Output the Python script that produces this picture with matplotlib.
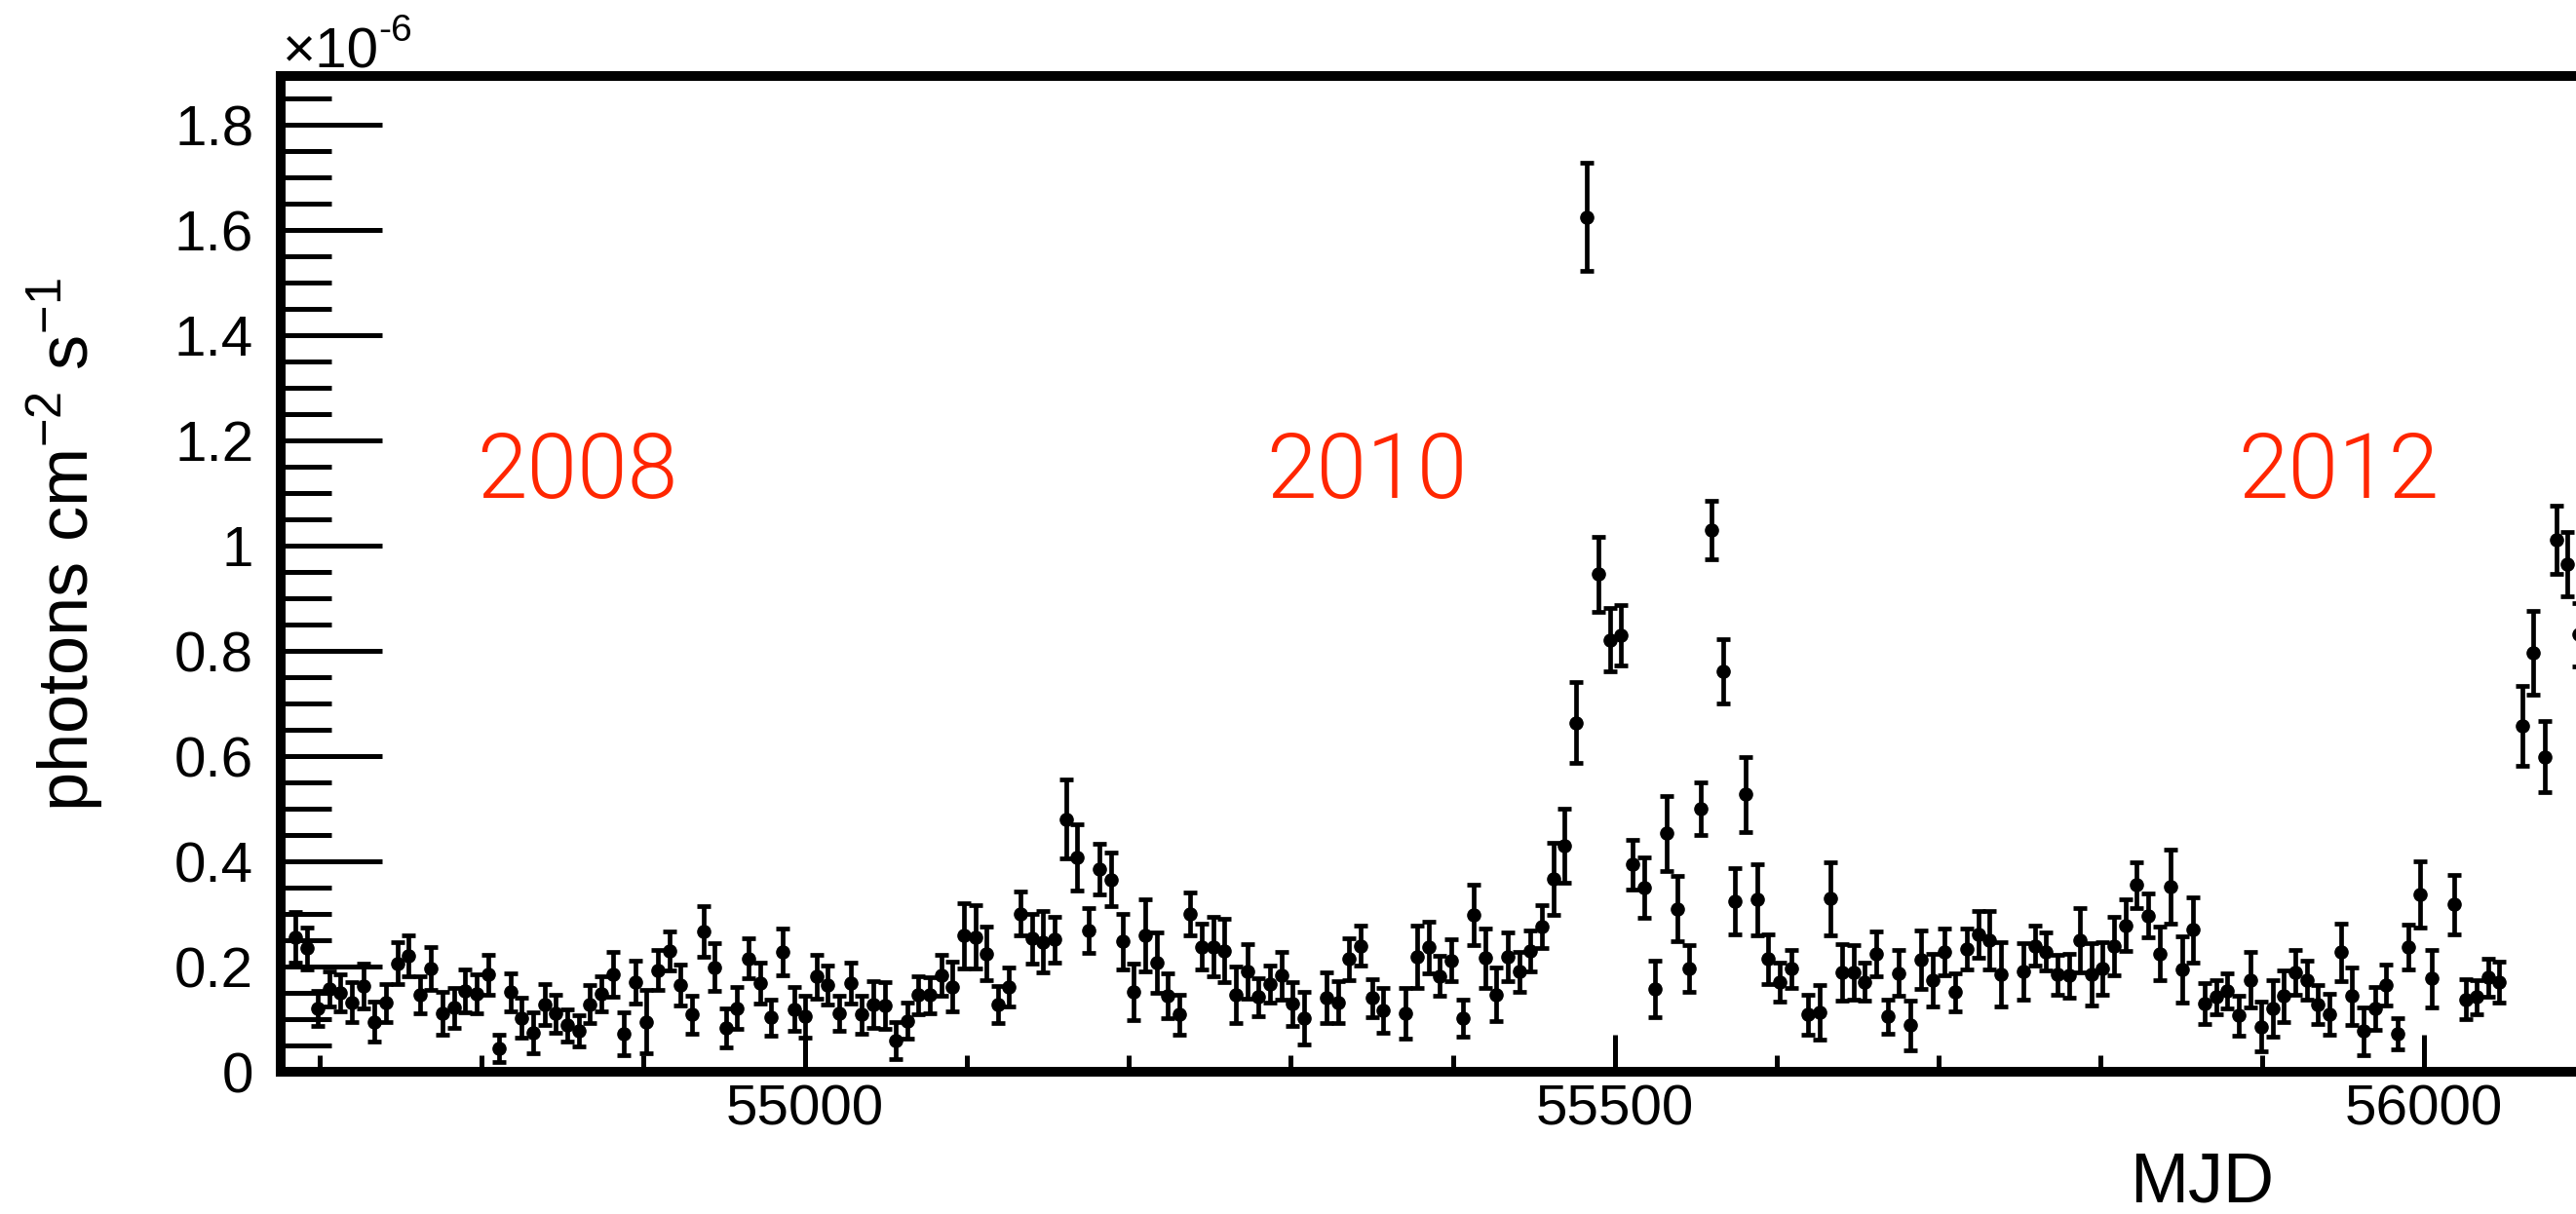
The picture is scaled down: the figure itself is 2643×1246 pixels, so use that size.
import matplotlib
matplotlib.use("Agg")
import matplotlib.pyplot as plt
from matplotlib import font_manager
from matplotlib.ticker import MultipleLocator, FuncFormatter

plt.rcParams['font.family'] = ['Liberation Sans', 'DejaVu Sans']
plt.rcParams['mathtext.fontset'] = 'custom'
plt.rcParams['mathtext.rm'] = 'Liberation Sans'
plt.rcParams['mathtext.it'] = 'Liberation Sans:italic'
plt.rcParams['mathtext.bf'] = 'Liberation Sans:bold'

# -----------------------------
# WEEKLY LIGHT CURVE (flux in units of 1e-6 photons cm^-2 s^-1)
# -----------------------------
mjd = [
    54685, 54692, 54699, 54706, 54713, 54720, 54727, 54734, 54741, 54748,
    54755, 54762, 54769, 54776, 54783, 54790, 54797, 54804, 54811, 54818,
    54825, 54832, 54839, 54846, 54853, 54860, 54867, 54874, 54881, 54888,
    54895, 54902, 54909, 54916, 54923, 54930, 54937, 54944, 54951, 54958,
    54965, 54972, 54979, 54986, 54993, 55000, 55007, 55014, 55021, 55028,
    55035, 55042, 55049, 55056, 55063, 55070, 55077, 55084, 55091, 55098,
    55105, 55112, 55119, 55126, 55133, 55140, 55147, 55154, 55161, 55168,
    55175, 55182, 55189, 55196, 55203, 55210, 55217, 55224, 55231, 55238,
    55245, 55252, 55259, 55266, 55273, 55280, 55287, 55294, 55301, 55308,
    55322, 55329, 55336, 55343, 55350, 55357,
    55371, 55378, 55385, 55392, 55399, 55406, 55413,
    55420, 55427, 55434, 55441, 55448, 55455, 55462, 55469, 55476, 55483,
    55490, 55497, 55504, 55511, 55518, 55525, 55532, 55539, 55546, 55553,
    55560, 55567, 55574, 55581, 55588, 55595, 55602, 55609,
    55619.5, 55626.5, 55633.5, 55640.5, 55647.5, 55654.5, 55661.5, 55668.5,
    55675.5, 55682.5, 55689.5, 55696.5, 55703.5, 55710.5, 55717.5, 55724.5,
    55731.5, 55738.5,
    55752.5, 55759.5, 55766.5, 55773.5, 55780.5, 55787.5, 55794.5, 55801.5,
    55808.5, 55815.5, 55822.5, 55829.5, 55836.5, 55843.5, 55850.5, 55857.5,
    55864.5, 55871.5, 55878.5, 55885.5, 55892.5, 55899.5, 55906.5, 55913.5,
    55920.5, 55927.5, 55934.5, 55941.5, 55948.5, 55955.5, 55962.5, 55969.5,
    55976.5, 55983.5, 55990.5, 55997.5, 56004.5,
    56018.5, 56025.5, 56032.5, 56039.5, 56046.5,
    56060.5, 56067.5, 56074.5, 56081.5, 56088.5, 56095.5,
]

flux = [
    0.256, 0.235, 0.120, 0.157, 0.150, 0.132, 0.163, 0.095, 0.131, 0.206,
    0.221, 0.146, 0.197, 0.111, 0.122, 0.154, 0.148, 0.185, 0.045, 0.151,
    0.102, 0.074, 0.128, 0.111, 0.088, 0.078, 0.128, 0.148, 0.185, 0.072,
    0.171, 0.095, 0.193, 0.230, 0.165, 0.109, 0.267, 0.199, 0.084, 0.121,
    0.215, 0.168, 0.103, 0.228, 0.119, 0.105, 0.181, 0.165, 0.111, 0.168,
    0.109, 0.128, 0.126, 0.059, 0.097, 0.146, 0.146, 0.183, 0.162, 0.259,
    0.256, 0.225, 0.128, 0.162, 0.301, 0.253, 0.247, 0.251, 0.480, 0.408,
    0.269, 0.385, 0.365, 0.248, 0.152, 0.259, 0.207, 0.144, 0.109, 0.300,
    0.238, 0.238, 0.230, 0.146, 0.191, 0.142, 0.167, 0.183, 0.129, 0.102,
    0.141, 0.132, 0.214, 0.239, 0.140, 0.117,
    0.111, 0.219, 0.237, 0.182, 0.212, 0.102, 0.298,
    0.216, 0.147, 0.219, 0.190, 0.230, 0.276, 0.367, 0.430, 0.664, 1.625,
    0.946, 0.821, 0.830, 0.394, 0.350, 0.158, 0.453, 0.310, 0.196, 0.501,
    1.030, 0.761, 0.325, 0.527, 0.327, 0.214, 0.171, 0.196,
    0.109, 0.113, 0.329, 0.189, 0.189, 0.171, 0.224, 0.105,
    0.188, 0.088, 0.213, 0.175, 0.228, 0.151, 0.233, 0.261,
    0.250, 0.185,
    0.191, 0.239, 0.228, 0.185, 0.183, 0.250, 0.185, 0.197,
    0.239, 0.278, 0.355, 0.297, 0.225, 0.352, 0.194, 0.270,
    0.129, 0.142, 0.154, 0.107, 0.175, 0.086, 0.120, 0.144,
    0.189, 0.175, 0.128, 0.109, 0.227, 0.144, 0.077, 0.120,
    0.165, 0.072, 0.237, 0.338, 0.177,
    0.318, 0.138, 0.142, 0.179, 0.170,
    0.657, 0.796, 0.599, 1.012, 0.965, 0.831,
]

flux_err = [
    0.048, 0.040, 0.033, 0.033, 0.036, 0.038, 0.042, 0.038, 0.036, 0.040,
    0.039, 0.035, 0.041, 0.040, 0.038, 0.041, 0.037, 0.038, 0.026, 0.036,
    0.038, 0.039, 0.039, 0.036, 0.031, 0.030, 0.036, 0.034, 0.042, 0.041,
    0.041, 0.060, 0.038, 0.037, 0.039, 0.036, 0.048, 0.045, 0.037, 0.040,
    0.038, 0.039, 0.035, 0.044, 0.042, 0.040, 0.042, 0.037, 0.033, 0.039,
    0.036, 0.044, 0.044, 0.035, 0.034, 0.036, 0.034, 0.039, 0.047, 0.062,
    0.060, 0.051, 0.035, 0.037, 0.042, 0.048, 0.058, 0.043, 0.075, 0.063,
    0.043, 0.048, 0.051, 0.053, 0.054, 0.069, 0.057, 0.043, 0.038, 0.040,
    0.043, 0.057, 0.060, 0.054, 0.052, 0.036, 0.035, 0.045, 0.042, 0.050,
    0.048, 0.040, 0.040, 0.038, 0.036, 0.042,
    0.048, 0.059, 0.049, 0.038, 0.039, 0.035, 0.057,
    0.057, 0.051, 0.046, 0.038, 0.039, 0.041, 0.069, 0.071, 0.077, 0.103,
    0.071, 0.060, 0.057, 0.047, 0.057, 0.054, 0.072, 0.062, 0.044, 0.050,
    0.055, 0.061, 0.063, 0.072, 0.068, 0.047, 0.037, 0.036,
    0.038, 0.051, 0.069, 0.054, 0.051, 0.036, 0.043, 0.033,
    0.043, 0.047, 0.055, 0.050, 0.045, 0.036, 0.039, 0.045,
    0.055, 0.061,
    0.053, 0.038, 0.036, 0.038, 0.042, 0.061, 0.059, 0.050,
    0.056, 0.049, 0.043, 0.042, 0.051, 0.070, 0.063, 0.062,
    0.039, 0.032, 0.034, 0.038, 0.053, 0.047, 0.054, 0.049,
    0.043, 0.037, 0.037, 0.039, 0.055, 0.055, 0.045, 0.041,
    0.039, 0.029, 0.042, 0.063, 0.054,
    0.056, 0.038, 0.032, 0.036, 0.039,
    0.076, 0.080, 0.067, 0.065, 0.061, 0.060,
]

year_labels = ["2008", "2010", "2012"]
year_mjd = [54859, 55347, 55947]
year_level = 1.091

x_ticks = [55000, 55500, 56000]


def light_font():
    # thin sans face for the year labels, if one is installed
    for name in ['Roboto', 'Inter', 'Lato', 'Open Sans', 'Noto Sans']:
        for f in font_manager.fontManager.ttflist:
            if f.name == name and f.weight in (300, 'light') and f.style == 'normal':
                return font_manager.FontProperties(fname=f.fname)
    return font_manager.FontProperties(family='Liberation Sans')


# -----------------------------
# FIGURE
# -----------------------------
fig = plt.figure(figsize=(26.43, 12.46), dpi=100)
# the frame runs on past the right edge of the canvas
ax = fig.add_axes([0.10897, 0.11717, 1.1463, 0.82023])

ax.errorbar(mjd, flux, yerr=flux_err, fmt='o', color='black', ms=9.5,
            elinewidth=3.4, capsize=5, capthick=3.4)

year_font = light_font()
year_font.set_size(67)
for label, x in zip(year_labels, year_mjd):
    ax.text(x, year_level, label, color='#FF2600', fontproperties=year_font,
            ha='center', va='baseline')

ax.set_xlim(54676, 56500)
ax.set_ylim(0, 1.893)

for spine in ax.spines.values():
    spine.set_linewidth(7.2)

ax.set_xticks(x_ticks)
ax.xaxis.set_minor_locator(MultipleLocator(100))
ax.yaxis.set_major_locator(MultipleLocator(0.2))
ax.yaxis.set_minor_locator(MultipleLocator(0.05))
ax.yaxis.set_major_formatter(FuncFormatter(lambda v, p: '%g' % round(v, 2)))

ax.tick_params(axis='y', which='major', direction='in', length=75, width=3.6,
               labelsize=42, pad=20)
ax.tick_params(axis='y', which='minor', direction='in', length=37.4, width=3.6)
ax.tick_params(axis='x', which='major', direction='in', length=27.4, width=3.6,
               labelsize=42, pad=9)
ax.tick_params(axis='x', which='minor', direction='in', length=12.2, width=3.6)

fig.text(290 / 2643, 1 - 70 / 1246, '×10', fontsize=42, ha='left', va='baseline')
fig.text(388 / 2643, 1 - 42 / 1246, '-6', fontsize=28, ha='left', va='baseline')

fig.text(90 / 2643, 1 - 833 / 1246, r'photons cm$^{-2}$ s$^{-1}$',
         fontsize=52, rotation=90, rotation_mode='anchor',
         ha='left', va='baseline')
fig.text(2259 / 2643, 12 / 1246, 'MJD', fontsize=52, ha='center', va='baseline')

fig.savefig('out.png', dpi=100)
